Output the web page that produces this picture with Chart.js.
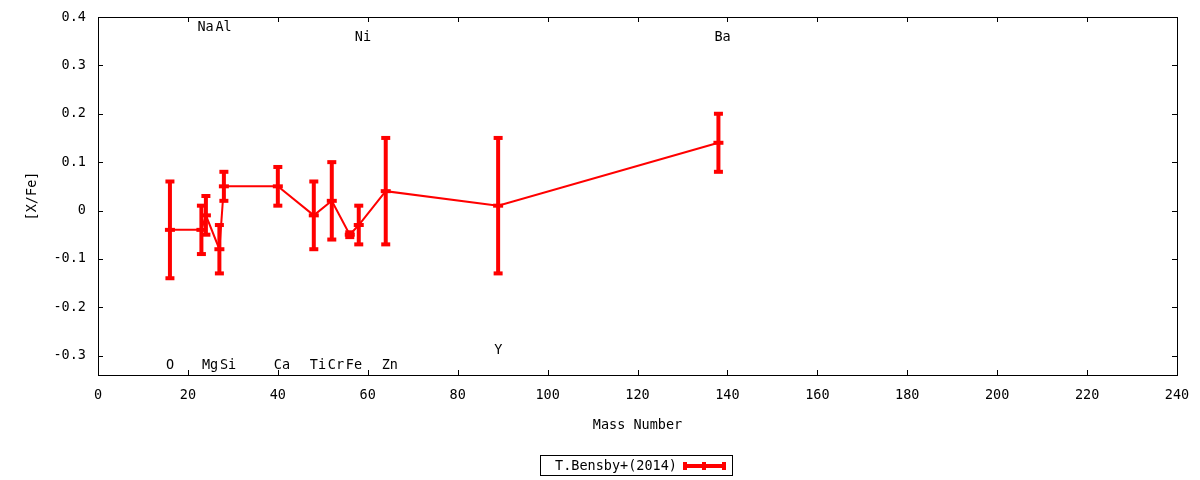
<!DOCTYPE html>
<html>
<head>
<meta charset="utf-8">
<title>[X/Fe] vs Mass Number</title>
<script src="https://cdn.jsdelivr.net/npm/chart.js@4.4.1/dist/chart.umd.min.js"></script>
<style>
  html, body { margin: 0; padding: 0; background: #fff; }
</style>
</head>
<body>
<canvas id="abundanceChart" width="1200" height="480"></canvas>
<script>
// abundance data, one entry per element
const elements = ['O', 'Na', 'Mg', 'Al', 'Si', 'Ca', 'Ti', 'Cr', 'Fe', 'Ni', 'Zn', 'Y', 'Ba'];
const massNumbers = [16, 23, 24, 27, 28, 40, 48, 52, 56, 58, 64, 89, 138];
const xfeValues = [-0.04, -0.04, -0.01, -0.08, 0.05, 0.05, -0.01, 0.02, -0.05, -0.03, 0.04, 0.01, 0.14];
const xfeErrors = [0.10, 0.05, 0.04, 0.05, 0.03, 0.04, 0.07, 0.08, 0.005, 0.04, 0.11, 0.14, 0.06];
// [X/Fe] level where each element name is written
const labelLevels = [-0.32, 0.378, -0.32, 0.378, -0.32, -0.32, -0.32, -0.32, -0.32, 0.357, -0.32, -0.29, 0.357];

const xTickValues = [0, 20, 40, 60, 80, 100, 120, 140, 160, 180, 200, 220, 240];
const yTickValues = [-0.3, -0.2, -0.1, 0, 0.1, 0.2, 0.3, 0.4];
const seriesLabel = 'T.Bensby+(2014)';

const FONT = { family: "'DejaVu Sans Mono', monospace", size: 13.5 };
const RED = '#ff0000';

Chart.defaults.color = '#000';
Chart.defaults.font.family = FONT.family;
Chart.defaults.font.size = FONT.size;

// vertical error bars with caps
const errorBarPlugin = {
    id: 'errorBars',
    afterDatasetsDraw(chart) {
        const ctx = chart.ctx;
        const xs = chart.scales.x;
        const ys = chart.scales.y;
        ctx.save();
        ctx.strokeStyle = RED;
        ctx.fillStyle = RED;
        ctx.lineWidth = 4;
        massNumbers.forEach((m, i) => {
            const x = xs.getPixelForValue(m);
            const yHi = ys.getPixelForValue(xfeValues[i] + xfeErrors[i]);
            const yLo = ys.getPixelForValue(xfeValues[i] - xfeErrors[i]);
            ctx.beginPath();
            ctx.moveTo(x, yHi);
            ctx.lineTo(x, yLo);
            ctx.stroke();
            ctx.fillRect(x - 4.5, yHi - 2, 9, 4);
            ctx.fillRect(x - 4.5, yLo - 2, 9, 4);
        });
        ctx.restore();
    }
};

// element names written beside their mass numbers
const elementLabelPlugin = {
    id: 'elementLabels',
    afterDatasetsDraw(chart) {
        const ctx = chart.ctx;
        const xs = chart.scales.x;
        const ys = chart.scales.y;
        ctx.save();
        ctx.font = FONT.size + 'px ' + FONT.family;
        ctx.fillStyle = '#000';
        ctx.textAlign = 'left';
        ctx.textBaseline = 'middle';
        elements.forEach((name, i) => {
            ctx.fillText(name, xs.getPixelForValue(massNumbers[i]) - 4, ys.getPixelForValue(labelLevels[i]));
        });
        ctx.restore();
    }
};

// gnuplot-like frame with inward ticks on all four sides, plus the boxed key
const framePlugin = {
    id: 'frame',
    afterDraw(chart) {
        const ctx = chart.ctx;
        const a = chart.chartArea;
        const xs = chart.scales.x;
        const ys = chart.scales.y;
        const tick = 5;
        ctx.save();
        ctx.strokeStyle = '#000';
        ctx.lineWidth = 1;
        ctx.strokeRect(Math.round(a.left) + 0.5, Math.round(a.top) + 0.5,
            Math.round(a.right - a.left), Math.round(a.bottom - a.top));
        ctx.beginPath();
        xTickValues.forEach(v => {
            const x = Math.round(xs.getPixelForValue(v)) + 0.5;
            ctx.moveTo(x, a.bottom);
            ctx.lineTo(x, a.bottom - tick);
            ctx.moveTo(x, a.top);
            ctx.lineTo(x, a.top + tick);
        });
        yTickValues.forEach(v => {
            const y = Math.round(ys.getPixelForValue(v)) + 0.5;
            ctx.moveTo(a.left, y);
            ctx.lineTo(a.left + tick, y);
            ctx.moveTo(a.right, y);
            ctx.lineTo(a.right - tick, y);
        });
        ctx.stroke();

        // key
        ctx.strokeRect(540.5, 455.5, 192, 20);
        ctx.font = FONT.size + 'px ' + FONT.family;
        ctx.fillStyle = '#000';
        ctx.textAlign = 'left';
        ctx.textBaseline = 'middle';
        ctx.fillText(chart.data.datasets[0].label, 555, 466);
        ctx.fillStyle = RED;
        ctx.fillRect(683, 464, 43, 4);
        ctx.fillRect(683, 462, 4, 8);
        ctx.fillRect(722, 462, 4, 8);
        ctx.fillRect(702, 462, 4, 8);
        ctx.restore();
    }
};

const ctx = document.getElementById('abundanceChart').getContext('2d');
new Chart(ctx, {
    type: 'scatter',
    data: {
        datasets: [{
            label: seriesLabel,
            data: massNumbers.map((m, i) => ({ x: m, y: xfeValues[i] })),
            showLine: true,
            borderColor: RED,
            borderWidth: 2,
            pointStyle: 'line',
            pointRadius: 5,
            pointBorderWidth: 4,
            pointBorderColor: RED,
            pointBackgroundColor: RED
        }]
    },
    options: {
        responsive: false,
        animation: false,
        layout: { padding: { left: 0, right: 23, top: 17, bottom: 0 } },
        scales: {
            x: {
                type: 'linear',
                min: 0,
                max: 240,
                afterBuildTicks: scale => { scale.ticks = xTickValues.map(v => ({ value: v })); },
                afterFit: scale => {
                    scale.height = 105;
                    scale.paddingLeft = 0;
                    scale.paddingRight = 0;
                },
                grid: { display: false, drawTicks: false },
                border: { display: false },
                ticks: { autoSkip: false, maxRotation: 0, padding: 12, color: '#000' },
                title: { display: true, text: 'Mass Number', color: '#000', padding: { top: 0, bottom: 46 } }
            },
            y: {
                type: 'linear',
                min: -0.34,
                max: 0.4,
                afterBuildTicks: scale => { scale.ticks = yTickValues.map(v => ({ value: v })); },
                afterFit: scale => {
                    scale.width = 98;
                    scale.paddingTop = 0;
                    scale.paddingBottom = 0;
                },
                grid: { display: false, drawTicks: false },
                border: { display: false },
                ticks: {
                    padding: 12,
                    color: '#000',
                    callback: value => String(Number(value.toFixed(1)))
                },
                title: { display: true, text: '[X/Fe]', color: '#000', padding: { top: 24, bottom: 0 } }
            }
        },
        plugins: {
            legend: { display: false },
            tooltip: { enabled: false }
        }
    },
    plugins: [errorBarPlugin, elementLabelPlugin, framePlugin]
});
</script>
</body>
</html>
